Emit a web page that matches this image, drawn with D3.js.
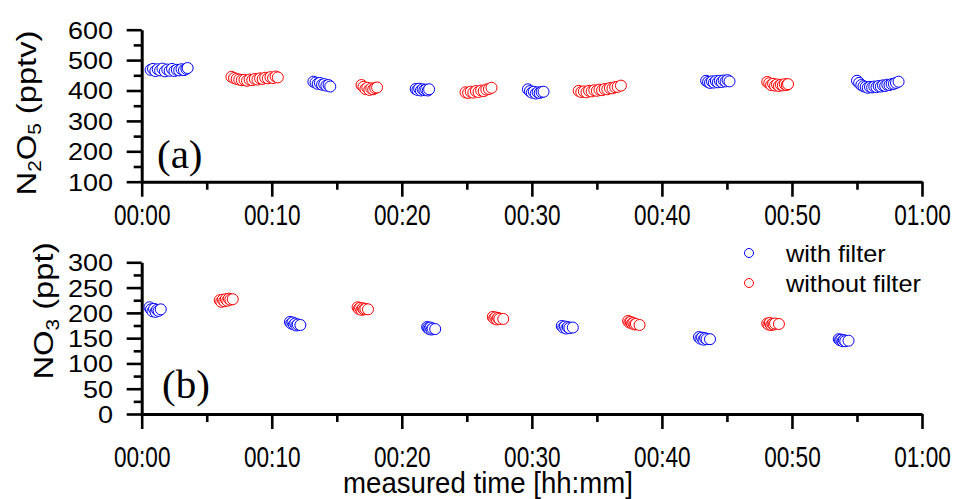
<!DOCTYPE html>
<html>
<head>
<meta charset="utf-8">
<script src="https://cdn.jsdelivr.net/npm/d3@7/dist/d3.min.js"></script>
<style>
  html, body { margin: 0; padding: 0; background: #fff; }
  svg { display: block; }
</style>
</head>
<body>
<svg id="chart" width="960" height="499"></svg>
<script>
// Elapsed time in seconds, concentration value.
// (a) N2O5 in pptv
const n2o5WithFilter = [
  [41,468],[52,471],[63,464],[74,470],[85,466],[96,472],[107,463],[118,469],[129,465],[140,471],
  [151,464],[162,468],[173,466],[184,470],[195,467],[206,471],[212,474],
  [792,429],[802,426],[812,422],[822,425],[832,419],[842,421],[852,416],[862,418],[870,413],
  [1264,405],[1272,402],[1280,406],[1288,400],[1296,404],[1304,401],[1312,403],[1320,400],[1326,404],
  [1782,404],[1791,398],[1800,393],[1809,396],[1818,390],[1827,394],[1836,392],[1845,395],[1854,396],
  [2604,432],[2613,428],[2622,425],[2631,430],[2640,426],[2649,431],[2658,427],[2667,432],[2676,428],
  [2685,433],[2694,430],[2703,434],[2712,430],
  [3300,432],[3310,425],[3320,418],[3330,414],[3340,412],[3350,409],[3360,412],[3370,410],[3380,413],
  [3390,411],[3400,415],[3410,413],[3420,417],[3430,415],[3440,419],[3450,418],[3460,421],[3470,422],
  [3480,425],[3492,429]
];
const n2o5WithoutFilter = [
  [414,445],[426,441],[438,438],[450,436],[462,434],[474,435],[486,432],[498,436],[510,434],[522,438],
  [534,436],[546,440],[558,438],[570,442],[582,440],[594,444],[606,441],[618,446],[628,443],
  [1014,418],[1023,412],[1032,405],[1041,409],[1050,402],[1059,407],[1068,404],[1077,408],[1086,410],
  [1494,394],[1506,392],[1518,396],[1530,393],[1542,398],[1554,395],[1566,400],[1578,398],[1590,403],
  [1602,405],[1614,409],
  [2016,399],[2028,395],[2040,397],[2052,394],[2064,399],[2076,397],[2088,401],[2100,399],[2112,403],
  [2124,401],[2136,405],[2148,404],[2160,408],[2172,407],[2184,411],[2196,412],[2211,416],
  [2886,428],[2895,424],[2904,418],[2913,422],[2922,416],[2931,420],[2940,415],[2949,419],[2958,417],
  [2967,421],[2976,418],[2982,421]
];
// (b) NO3 in ppt
const no3WithFilter = [
  [36,211],[43,207],[50,203],[57,208],[64,202],[71,206],[78,204],[88,207],
  [684,182],[690,179],[696,181],[702,177],[708,179],[714,175],[720,177],[732,176],
  [1317,172],[1322,170],[1327,168],[1332,171],[1337,167],[1342,169],[1354,168],
  [1938,174],[1945,171],[1952,173],[1959,169],[1966,172],[1973,170],[1989,171],
  [2571,152],[2578,149],[2585,151],[2592,147],[2599,150],[2606,148],[2622,148],
  [3216,148],[3222,146],[3228,147],[3234,144],[3240,146],[3246,144],[3261,145]
];
const no3WithoutFilter = [
  [360,225],[367,222],[374,226],[381,223],[388,227],[395,224],[402,228],[409,226],[420,227],
  [996,211],[1002,208],[1008,210],[1014,206],[1020,209],[1026,207],[1032,208],[1044,207],
  [1620,192],[1626,189],[1632,191],[1638,187],[1644,190],[1650,188],[1668,188],
  [2244,184],[2250,181],[2256,182],[2262,179],[2268,180],[2274,177],[2280,178],[2297,176],
  [2886,179],[2892,177],[2898,180],[2904,176],[2910,178],[2916,177],[2922,179],[2940,178]
];

const timeTicks = [0, 600, 1200, 1800, 2400, 3000, 3600];
const timeMinorTicks = [300, 900, 1500, 2100, 2700, 3300];
const timeTickLabels = ["00:00", "00:10", "00:20", "00:30", "00:40", "00:50", "01:00"];
const n2o5Ticks = [100, 200, 300, 400, 500, 600];
const n2o5MinorTicks = [150, 250, 350, 450, 550];
const no3Ticks = [0, 50, 100, 150, 200, 250, 300];
const no3MinorTicks = [25, 75, 125, 175, 225, 275];
const seriesNames = ["with filter", "without filter"];
const seriesColors = ["#0000ff", "#ff0000"];

const SANS = "'Liberation Sans', Arial, sans-serif";
const SERIF = "'Liberation Serif', 'Times New Roman', serif";

const svg = d3.select("#chart");

const x = d3.scaleLinear().domain([0, 3600]).range([141.7, 922]);
const yTop = d3.scaleLinear().domain([100, 600]).range([181.7, 29.7]);
const yBot = d3.scaleLinear().domain([0, 300]).range([414, 262.3]);

function drawAxes(y, major, minor, labelBaseline) {
  const y0 = y.range()[0];
  const x0 = x.range()[0];

  // minor ticks
  svg.append("g").attr("transform", `translate(0,${y0})`)
    .call(d3.axisBottom(x).tickValues(timeMinorTicks).tickSize(8).tickSizeOuter(0).tickFormat(""))
    .call(g => g.select(".domain").remove())
    .call(g => g.selectAll("line").attr("stroke-width", 2.6));
  svg.append("g").attr("transform", `translate(${x0},0)`)
    .call(d3.axisLeft(y).tickValues(minor).tickSize(8).tickSizeOuter(0).tickFormat(""))
    .call(g => g.select(".domain").remove())
    .call(g => g.selectAll("line").attr("stroke-width", 2.6));

  // major x ticks and labels
  const ax = svg.append("g").attr("transform", `translate(0,${y0})`)
    .call(d3.axisBottom(x).tickValues(timeTicks).tickSize(15).tickSizeOuter(0)
      .tickFormat((d, i) => timeTickLabels[i]));
  ax.select(".domain").attr("stroke-width", 3);
  ax.selectAll("line").attr("stroke-width", 2.6);
  ax.selectAll("text")
    .attr("font-family", SANS)
    .attr("font-size", 29)
    .attr("fill", "#000")
    .attr("y", labelBaseline - y0)
    .attr("dy", null)
    .attr("transform", "scale(0.78,1)");

  // major y ticks and labels
  const ay = svg.append("g").attr("transform", `translate(${x0},0)`)
    .call(d3.axisLeft(y).tickValues(major).tickSize(15).tickSizeOuter(0));
  ay.select(".domain").attr("stroke-width", 3);
  ay.selectAll("line").attr("stroke-width", 2.6);
  ay.selectAll("text")
    .attr("font-family", SANS)
    .attr("font-size", 23.5)
    .attr("fill", "#000")
    .attr("x", -25)
    .attr("dy", "0.36em")
    .attr("transform", "scale(1.15,1)");
}

function drawPoints(data, y, color) {
  svg.append("g").selectAll("circle").data(data).join("circle")
    .attr("cx", d => x(d[0]))
    .attr("cy", d => y(d[1]))
    .attr("r", 5.5)
    .attr("fill", "#fff")
    .attr("stroke", color)
    .attr("stroke-width", 1);
}

drawAxes(yTop, n2o5Ticks, n2o5MinorTicks, 225);
drawAxes(yBot, no3Ticks, no3MinorTicks, 467);

// data markers, drawn in time order so later circles sit on top
drawPoints(n2o5WithFilter, yTop, seriesColors[0]);
drawPoints(n2o5WithoutFilter, yTop, seriesColors[1]);
drawPoints(no3WithFilter, yBot, seriesColors[0]);
drawPoints(no3WithoutFilter, yBot, seriesColors[1]);

// y-axis titles with subscripts
function yTitle(xPos, yMid, parts) {
  const t = svg.append("text")
    .attr("transform", `translate(${xPos},${yMid}) rotate(-90) scale(1.15,1)`)
    .attr("text-anchor", "middle")
    .attr("font-family", SANS)
    .attr("font-size", 28.5);
  parts.forEach(p => {
    const s = t.append("tspan").text(p.t);
    if (p.sub) s.attr("font-size", 18).attr("baseline-shift", "-0.3em");
  });
}
yTitle(35.5, 113, [{t: "N"}, {t: "2", sub: true}, {t: "O"}, {t: "5", sub: true}, {t: " (pptv)"}]);
yTitle(53, 311, [{t: "NO"}, {t: "3", sub: true}, {t: " (ppt)"}]);

// panel letters
svg.append("text").attr("x", 157).attr("y", 168)
  .attr("font-family", SERIF).attr("font-size", 41).text("(a)");
svg.append("text").attr("x", 162).attr("y", 397.5)
  .attr("font-family", SERIF).attr("font-size", 41).text("(b)");

// x-axis title
svg.append("text")
  .attr("transform", "translate(488,493) scale(0.92,1)")
  .attr("text-anchor", "middle")
  .attr("font-family", SANS)
  .attr("font-size", 30)
  .text("measured time [hh:mm]");

// legend
const legend = svg.append("g");
seriesNames.forEach((name, i) => {
  const ly = 253 + i * 30;
  legend.append("circle").attr("cx", 749).attr("cy", ly).attr("r", 4.5)
    .attr("fill", "#fff").attr("stroke", seriesColors[i]).attr("stroke-width", 1);
  legend.append("text").attr("transform", `translate(786,${ly + 8.5}) scale(1.1,1)`)
    .attr("font-family", SANS).attr("font-size", 23).text(name);
});
</script>
</body>
</html>
